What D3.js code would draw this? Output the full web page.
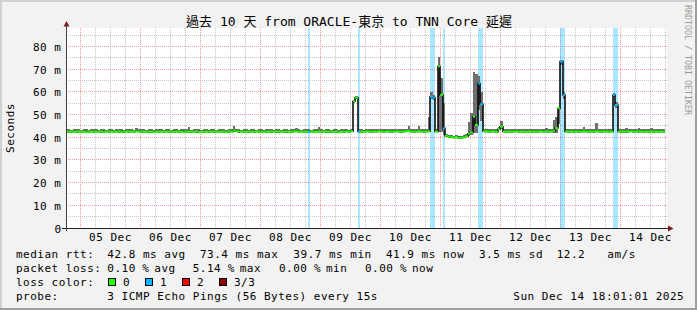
<!DOCTYPE html>
<html>
<head>
<meta charset="utf-8">
<script src="https://cdn.jsdelivr.net/npm/d3@7"></script>
<style>
  html, body { margin: 0; padding: 0; background: #f2f2f2; }
  svg { display: block; }
  text { font-family: "DejaVu Sans Mono", "Noto Sans CJK TC", monospace; fill: #000; }
</style>
</head>
<body>
<div id="chart"></div>
<script>
const title = "過去 10 天 from ORACLE-東京 to TNN Core 延遲";
const tStart = Date.UTC(2025, 11, 4, 18, 1, 1);
const tEnd = Date.UTC(2025, 11, 14, 18, 1, 1);
const firstBin = Date.UTC(2025, 11, 4, 18, 0, 0); // 1 hour per value

const dayLabels = ["05 Dec", "06 Dec", "07 Dec", "08 Dec", "09 Dec",
                   "10 Dec", "11 Dec", "12 Dec", "13 Dec", "14 Dec"];
const yTicks = [0, 10, 20, 30, 40, 50, 60, 70, 80];
const yTickLabels = ["0", "10 m", "20 m", "30 m", "40 m", "50 m", "60 m", "70 m", "80 m"];

// median rtt (ms), one value per hour, each row = 18:00 .. 17:00 next day
const medianMs = [
  42.4,42.5,42.4,42.3,42.4,42.5,42.4,42.3,42.2,42.4,42.5,42.4,42.3,42.4,42.4,42.2,42.3,42.4,42.5,42.4,42.3,42.4,42.2,42.4,
  42.5,42.4,42.3,42.4,42.6,42.5,42.4,42.3,42.4,42.5,42.4,42.2,42.3,42.4,42.5,42.4,42.3,42.4,42.4,42.3,42.5,42.4,42.3,42.2,
  42.4,42.5,42.4,42.3,42.4,42.2,42.3,42.4,42.5,42.4,42.3,42.4,42.4,42.5,42.3,42.4,42.2,42.4,42.5,42.9,42.6,42.4,42.3,42.4,
  42.5,42.4,42.3,42.4,42.5,42.4,42.2,42.3,42.4,42.5,42.4,42.3,42.4,42.4,42.3,42.5,42.4,42.3,42.4,42.5,42.6,42.4,42.3,42.4,
  42.4,42.3,42.5,42.4,42.3,42.6,42.4,42.3,42.4,42.5,42.4,42.3,42.4,42.2,42.3,42.4,42.5,42.4,42.6,55.8,57.4,42.5,42.4,42.3,
  42.6,42.5,42.4,42.6,42.5,42.7,42.5,42.4,42.6,42.5,42.4,42.5,42.6,42.5,42.4,42.5,42.6,42.7,42.5,42.4,42.5,42.6,42.5,42.4,
  42.5,42.6,57.8,57.5,42.5,71.2,58.6,43.9,40.6,40.3,40.0,39.9,40.1,39.7,39.8,40.0,40.4,41.5,42.0,49.0,45.4,63.7,54.5,42.6,
  42.5,42.4,42.5,42.6,42.4,43.5,44.6,42.5,42.4,42.5,42.4,42.5,42.6,42.4,42.5,42.4,42.3,42.5,42.4,42.5,42.4,42.5,42.6,42.4,
  42.5,42.4,42.5,42.8,44.0,52.7,73.4,58.6,42.5,42.4,42.5,42.4,42.5,42.4,42.5,42.8,42.5,42.4,42.5,42.4,42.6,42.5,42.4,42.5,
  42.5,42.4,42.5,58.6,54.2,42.5,42.4,42.5,42.4,42.5,42.6,42.4,42.5,42.4,42.5,42.4,42.5,42.4,42.5,42.4,42.5,42.4,42.5,42.4
];
// smoke: slowest ping per hour (ms)
const smokeHi = [
  43.4,43.6,43.3,43.5,43.4,43.7,43.3,43.4,43.6,43.3,43.5,43.4,43.6,43.3,43.4,43.5,43.3,43.6,43.4,43.3,43.5,43.4,43.6,43.3,
  43.5,43.4,43.6,43.3,43.9,43.5,43.4,43.6,43.3,43.4,43.5,43.3,43.6,43.4,43.5,43.3,43.4,43.6,43.3,43.5,43.4,43.3,43.6,43.4,
  43.4,44.6,43.3,43.5,43.4,43.6,43.3,43.4,43.5,43.3,43.6,43.4,43.3,43.5,43.4,43.6,43.3,43.4,43.5,44.9,43.6,43.4,43.3,43.5,
  43.5,43.3,43.4,43.6,43.3,43.5,43.4,43.3,43.6,43.4,43.5,43.3,43.4,43.6,43.3,43.5,43.4,43.3,43.6,43.4,43.9,43.5,43.3,43.4,
  43.4,43.5,43.3,43.6,43.4,44.6,43.5,43.3,43.4,43.6,43.3,43.5,43.4,43.3,43.6,43.4,43.5,43.3,43.6,56.6,58.0,43.5,43.4,43.3,
  43.6,43.5,43.4,43.6,43.5,43.7,43.4,43.5,43.6,43.4,43.5,43.6,43.4,43.5,43.6,43.4,43.5,45.0,43.6,43.4,43.5,45.0,43.6,43.4,
  43.6,49.0,59.8,58.5,43.5,75.5,66.0,55.0,41.4,41.1,40.8,40.7,40.9,40.6,40.7,40.9,41.5,46.8,50.6,68.9,68.0,67.0,60.0,43.6,
  43.6,43.4,43.5,43.6,43.4,44.5,47.0,43.5,43.4,43.6,43.5,43.4,43.6,43.5,43.4,43.6,43.5,43.4,43.6,43.5,43.6,43.7,43.6,43.8,
  43.9,43.8,43.7,47.6,49.0,53.5,74.2,60.0,43.6,43.5,43.6,43.4,43.5,43.6,43.4,44.6,43.5,43.6,43.4,43.5,46.1,43.6,43.5,43.6,
  43.6,43.5,43.7,59.6,55.5,43.6,43.8,43.7,43.9,43.6,43.8,43.7,43.6,43.9,43.7,43.8,43.6,43.7,43.9,43.6,43.7,43.8,43.6,43.7
];
// smoke: fastest ping per hour (ms)
const smokeLo = [
  42.0,42.1,42.0,41.9,42.0,42.1,42.0,41.9,41.8,42.0,42.1,42.0,41.9,42.0,42.0,41.8,41.9,42.0,42.1,42.0,41.9,42.0,41.8,42.0,
  42.1,42.0,41.9,42.0,42.1,42.1,42.0,41.9,42.0,42.1,42.0,41.8,41.9,42.0,42.1,42.0,41.9,42.0,42.0,41.9,42.1,42.0,41.9,41.8,
  42.0,42.1,42.0,41.9,42.0,41.8,41.9,42.0,42.1,42.0,41.9,42.0,42.0,42.1,41.9,42.0,41.8,42.0,42.1,42.3,42.2,42.0,41.9,42.0,
  42.1,42.0,41.9,42.0,42.1,42.0,41.8,41.9,42.0,42.1,42.0,41.9,42.0,42.0,41.9,42.1,42.0,41.9,42.0,42.1,42.2,42.0,41.9,42.0,
  42.0,41.9,42.1,42.0,41.9,42.2,42.0,41.9,42.0,42.1,42.0,41.9,42.0,41.8,41.9,42.0,42.1,42.0,42.2,55.2,56.9,42.1,42.0,41.9,
  42.2,42.1,42.0,42.2,42.1,42.3,42.1,42.0,42.2,42.1,42.0,42.1,42.2,42.1,42.0,42.1,42.2,42.3,42.1,42.0,42.1,42.2,42.1,42.0,
  42.1,42.2,56.8,56.5,42.1,42.4,42.5,41.0,40.2,39.9,39.6,39.5,39.7,39.3,39.4,39.6,40.0,40.5,40.8,42.0,42.0,52.0,47.0,42.2,
  42.1,42.0,42.1,42.2,42.0,43.0,43.5,42.1,42.0,42.1,42.0,42.1,42.2,42.0,42.1,42.0,41.9,42.1,42.0,42.1,42.0,42.1,42.2,42.0,
  42.1,42.0,42.1,42.0,42.0,46.0,72.0,57.0,42.1,42.0,42.1,42.0,42.1,42.0,42.1,42.4,42.1,42.0,42.1,42.0,42.2,42.1,42.0,42.1,
  42.1,42.0,42.1,57.5,53.0,42.1,42.0,42.1,42.0,42.1,42.2,42.0,42.1,42.0,42.1,42.0,42.1,42.0,42.1,42.0,42.1,42.0,42.1,42.0
];
// lost pings (of 3) per hour
const lossCount = [
  0,0,0,0,0,0,0,0,0,0,0,0,0,0,0,0,0,0,0,0,0,0,0,0,
  0,0,0,0,0,0,0,0,0,0,0,0,0,0,0,0,0,0,0,0,0,0,0,0,
  0,0,0,0,0,0,0,0,0,0,0,0,0,0,0,0,0,0,0,0,0,0,0,0,
  0,0,0,0,0,0,0,0,0,0,0,0,0,0,0,0,0,0,0,0,0,0,0,0,
  0,1,0,0,0,0,0,0,0,0,0,0,0,0,0,0,0,0,0,0,0,1,0,0,
  0,0,0,0,0,0,0,0,0,0,0,0,0,0,0,0,0,0,0,0,0,0,0,0,
  0,0,1,1,0,0,0,1,0,0,0,0,0,0,0,0,0,0,0,0,0,1,1,0,
  0,0,0,0,0,0,0,0,0,0,0,0,0,0,0,0,0,0,0,0,0,0,0,0,
  0,0,0,0,0,0,1,1,0,0,0,0,0,0,0,0,0,0,0,0,0,0,0,0,
  0,0,0,1,1,0,0,0,0,0,0,0,0,0,0,0,0,0,0,0,0,0,0,0
];

const lossColors = ["#26ff00", "#00b8ff", "#ff0000", "#8f0000"];
const lossNames = ["0", "1", "2", "3/3"];
const rttStats = ["42.8 ms avg", "73.4 ms max", "39.7 ms min", "41.9 ms now", "3.5 ms sd", "12.2", "am/s"];
const lossValues = ["0.10", "5.14", "0.00", "0.00"];
const lossKinds = ["avg", "max", "min", "now"];
const probeText = "3 ICMP Echo Pings (56 Bytes) every 15s";
const stamp = "Sun Dec 14 18:01:01 2025";

function drawSmokePing(containerId) {
  const W = 697, H = 310;
  const left = 66, right = 666, top = 28, bottom = 228;

  const svg = d3.select(containerId).append("svg")
    .attr("width", W)
    .attr("height", H);

  svg.append("rect").attr("width", W).attr("height", H).attr("fill", "#f2f2f2");
  svg.append("path").attr("d", `M0,0H${W}V2H2V${H}H0Z`).attr("fill", "#d0d0d0");
  svg.append("path").attr("d", `M${W},${H}H0V${H - 2}H${W - 2}V0H${W}Z`).attr("fill", "#9e9e9e");

  svg.append("rect")
    .attr("x", left).attr("y", top)
    .attr("width", right - left + 1).attr("height", bottom - top)
    .attr("fill", "#fff");

  const x = d3.scaleUtc().domain([tStart, tEnd]).range([65.54, 665.54]);
  const y = d3.scaleLinear().domain([0, 88.1]).range([bottom, top]);
  const snap = v => Math.floor(v) + 0.5;

  // grid
  const grid = svg.append("g").attr("stroke-dasharray", "1,1").attr("stroke-width", 1);
  d3.utcHour.every(6).range(tStart, tEnd).filter(d => d.getUTCHours() !== 0).forEach(d => {
    grid.append("line")
      .attr("x1", snap(x(d))).attr("x2", snap(x(d)))
      .attr("y1", top).attr("y2", bottom)
      .attr("stroke", "#c6c6c6");
  });
  d3.range(5, 88, 10).forEach(v => {
    grid.append("line")
      .attr("x1", left).attr("x2", right + 1)
      .attr("y1", snap(y(v))).attr("y2", snap(y(v)))
      .attr("stroke", "#c6c6c6");
  });
  d3.utcDay.range(tStart, tEnd).forEach(d => {
    grid.append("line")
      .attr("x1", snap(x(d))).attr("x2", snap(x(d)))
      .attr("y1", top).attr("y2", bottom)
      .attr("stroke", "#f09a9a");
  });
  yTicks.filter(v => v > 0).forEach(v => {
    grid.append("line")
      .attr("x1", left).attr("x2", right + 1)
      .attr("y1", snap(y(v))).attr("y2", snap(y(v)))
      .attr("stroke", "#f09a9a");
  });

  const bins = medianMs.map((m, i) => ({
    t0: firstBin + i * 3600e3,
    t1: firstBin + (i + 1) * 3600e3,
    median: m, hi: smokeHi[i], lo: smokeLo[i], loss: lossCount[i]
  }));
  const bx0 = d => Math.max(left + 1, Math.round(x(d.t0)));
  const bx1 = d => Math.min(right + 1, Math.round(x(d.t1)));

  const data = svg.append("g").attr("shape-rendering", "crispEdges");

  // loss background
  data.selectAll("rect.loss")
    .data(bins.filter(d => d.loss > 0))
    .enter().append("rect")
    .attr("class", "loss")
    .attr("x", bx0)
    .attr("width", d => bx1(d) - bx0(d))
    .attr("y", top)
    .attr("height", bottom - top)
    .attr("fill", d => lossColors[d.loss])
    .attr("opacity", 0.33);

  // smoke
  data.selectAll("rect.smoke")
    .data(bins)
    .enter().append("rect")
    .attr("class", "smoke")
    .attr("x", bx0)
    .attr("width", d => bx1(d) - bx0(d))
    .attr("y", d => y(d.hi))
    .attr("height", d => Math.max(1, y(d.lo) - y(d.hi)))
    .attr("fill", "#6f6f6f");

  // median: black steps, coloured by loss on top
  let path = "";
  bins.forEach((d, i) => {
    const yy = y(d.median).toFixed(1);
    path += (i === 0 ? `M${bx0(d)},${yy}` : `V${yy}`) + `H${bx1(d)}`;
  });
  svg.append("path")
    .attr("d", path)
    .attr("fill", "none")
    .attr("stroke", "#000")
    .attr("stroke-width", 1.5);

  svg.append("g").selectAll("line")
    .data(bins)
    .enter().append("line")
    .attr("x1", bx0)
    .attr("x2", bx1)
    .attr("y1", d => y(d.median))
    .attr("y2", d => y(d.median))
    .attr("stroke", d => lossColors[d.loss])
    .attr("stroke-width", 2);

  // axes
  svg.append("line")
    .attr("x1", 62).attr("x2", 670)
    .attr("y1", bottom + 0.5).attr("y2", bottom + 0.5)
    .attr("stroke", "#202020");
  svg.append("line")
    .attr("x1", left + 0.5).attr("x2", left + 0.5)
    .attr("y1", bottom + 3).attr("y2", 23)
    .attr("stroke", "#404040");
  svg.append("path")
    .attr("d", `M${left - 2.5},26.5L${left + 3.5},26.5L${left + 0.5},21Z`)
    .attr("fill", "#7f1a1a");
  svg.append("path")
    .attr("d", `M668,${bottom - 2.5}L668,${bottom + 3.5}L673.5,${bottom + 0.5}Z`)
    .attr("fill", "#7f1a1a");

  const mono = sel => sel.style("font-size", "11px").style("letter-spacing", "0.5px");

  yTicks.forEach((v, i) => {
    svg.append("text")
      .attr("x", 61.5)
      .attr("y", snap(y(v)) + 4)
      .attr("text-anchor", "end")
      .text(yTickLabels[i])
      .call(mono);
  });

  dayLabels.forEach((lab, i) => {
    svg.append("text")
      .attr("x", x(Date.UTC(2025, 11, 5 + i, 12)))
      .attr("y", 241)
      .attr("text-anchor", "middle")
      .text(lab)
      .call(mono);
  });

  svg.append("text")
    .attr("transform", "translate(14,128) rotate(-90)")
    .attr("text-anchor", "middle")
    .text("Seconds")
    .call(mono);

  svg.append("text")
    .attr("x", 349)
    .attr("y", 26)
    .attr("text-anchor", "middle")
    .style("font-size", "13px")
    .text(title);

  svg.append("text")
    .attr("transform", "translate(685,5) rotate(90)")
    .style("font-size", "8.3px")
    .style("fill", "#9a9a9a")
    .text("RRDTOOL / TOBI OETIKER");

  // legend
  const rows = [258, 272, 286, 300];
  const rttCols = [107.3, 200, 293.3, 386, 479, 556.7, 607.3];
  const lossNumCols = [107.3, 192.7, 279, 365];

  svg.append("text").attr("x", 16).attr("y", rows[0]).text("median rtt:").call(mono);
  rttStats.forEach((s, i) => {
    svg.append("text").attr("x", rttCols[i]).attr("y", rows[0]).text(s).call(mono);
  });

  svg.append("text").attr("x", 16).attr("y", rows[1]).text("packet loss:").call(mono);
  lossValues.forEach((s, i) => {
    const x0 = lossNumCols[i];
    svg.append("text").attr("x", x0).attr("y", rows[1]).text(s).call(mono);
    svg.append("text").attr("x", x0 + 35).attr("y", rows[1]).text("%").call(mono);
    svg.append("text").attr("x", x0 + 47).attr("y", rows[1]).text(lossKinds[i]).call(mono);
  });

  svg.append("text").attr("x", 16).attr("y", rows[2]).text("loss color:").call(mono);
  lossNames.forEach((n, i) => {
    svg.append("rect")
      .attr("x", 108.5 + i * 37).attr("y", 278.5)
      .attr("width", 7).attr("height", 7)
      .attr("fill", lossColors[i])
      .attr("stroke", "#000");
    svg.append("text").attr("x", 123 + i * 37).attr("y", rows[2]).text(n).call(mono);
  });

  svg.append("text").attr("x", 16).attr("y", rows[3]).text("probe:").call(mono);
  svg.append("text").attr("x", 107.3).attr("y", rows[3]).text(probeText).call(mono);
  svg.append("text").attr("x", 513.3).attr("y", rows[3]).text(stamp).call(mono);
}

drawSmokePing("#chart");
</script>
</body>
</html>
